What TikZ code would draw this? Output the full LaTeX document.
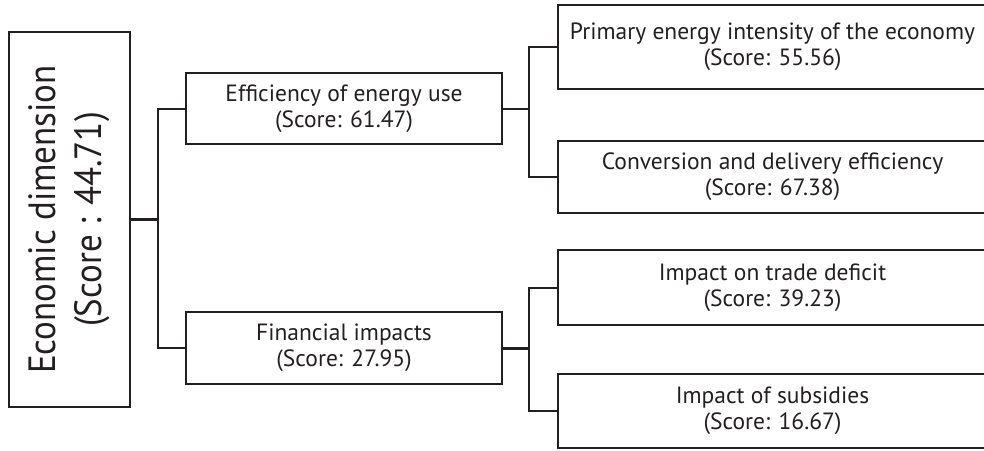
\documentclass[tikz,border=0pt]{standalone}
\usepackage{fontspec}
\setmainfont{PT Sans}
\newfontfamily\rootfont[FakeStretch=0.92]{PT Sans}
\definecolor{ink}{HTML}{231F20}
\begin{document}
\begin{tikzpicture}[x=1pt,y=-1pt,
  box/.style={draw=ink, line width=2pt, inner sep=0pt, align=center, text=ink,
    font=\fontsize{23.5}{26}\selectfont},
  link/.style={draw=ink, line width=2pt},
  trunk/.style={draw=ink, line width=3pt}]
\clip (0,0) rectangle (984,450);
\node[box, rotate=90, minimum width=375pt, minimum height=121pt,
  font=\rootfont\fontsize{38}{46}\selectfont] (root) at (69.5,219.5)
  {Economic dimension\\(Score : 44.71)};
\node[box, minimum width=316pt, minimum height=71pt] (mid1) at (344,108.5)
  {Efficiency of energy use\\(Score: 61.47)};
\node[box, minimum width=316pt, minimum height=72pt] (mid2) at (344,348)
  {Financial impacts\\(Score: 27.95)};
\node[box, minimum width=429pt, minimum height=84pt] (r1) at (772.5,47)
  {Primary energy intensity of the economy\\(Score: 55.56)};
\node[box, minimum width=429pt, minimum height=72pt] (r2) at (772.5,177)
  {Conversion and delivery efficiency\\(Score: 67.38)};
\node[box, minimum width=429pt, minimum height=75pt] (r3) at (772.5,287.5)
  {Impact on trade deficit\\(Score: 39.23)};
\node[box, minimum width=429pt, minimum height=74pt] (r4) at (772.5,411)
  {Impact of subsidies\\(Score: 16.67)};
\coordinate (j1) at (158,219.5);
\coordinate (j2) at (529,108.5);
\coordinate (j3) at (529,348);
\draw[trunk] (root.south) -- (j1);
\draw[link] (mid1.west) -| (j1) |- (mid2.west);
\draw[link] (mid1.east) -- (j2);
\draw[link] (r1.west) -| (j2) |- (r2.west);
\draw[trunk] (mid2.east) -- (j3);
\draw[link] (r3.west) -| (j3) |- (r4.west);
\end{tikzpicture}
\end{document}
